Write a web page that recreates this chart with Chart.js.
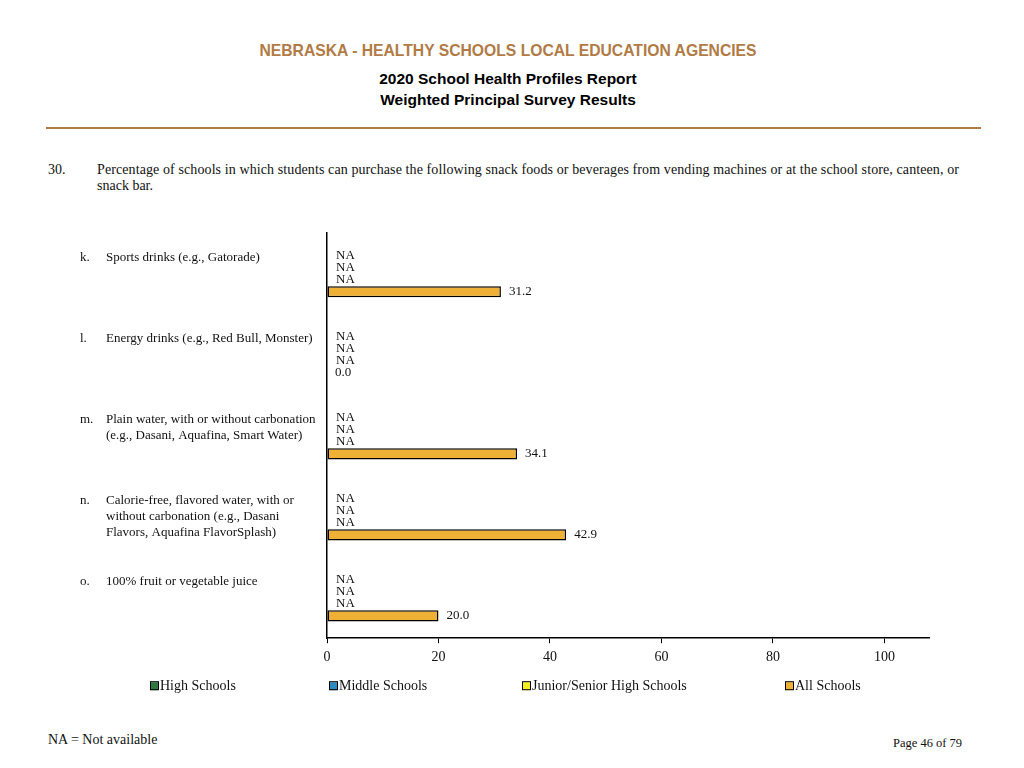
<!DOCTYPE html>
<html>
<head>
<meta charset="utf-8">
<script src="https://cdn.jsdelivr.net/npm/chart.js@4.4.0/dist/chart.umd.min.js"></script>
<style>
  body { margin: 0; background: #fff; width: 1024px; height: 768px; position: relative; overflow: hidden; }
  .t { position: absolute; white-space: nowrap; }
  .head { left: 0; width: 1016px; text-align: center; font-family: "Liberation Sans", Arial, sans-serif; font-weight: bold; }
  .serif { font: 14px "Liberation Serif", "Times New Roman", serif; color: #111; }
  #box { position: absolute; left: 0; top: 220px; width: 1024px; height: 490px; }
</style>
</head>
<body>
<div class="t head" style="top:42px;font-size:15.7px;color:#B07B45;">NEBRASKA - HEALTHY SCHOOLS LOCAL EDUCATION AGENCIES</div>
<div class="t head" style="top:70px;font-size:15.5px;color:#000;">2020 School Health Profiles Report</div>
<div class="t head" style="top:91px;font-size:15.5px;color:#000;">Weighted Principal Survey Results</div>
<div style="position:absolute;left:46px;top:127px;width:935px;height:2px;background:#B07B45;"></div>
<div class="t serif" style="left:48px;top:162px;">30.</div>
<div class="t serif" style="left:97px;top:162px;letter-spacing:0.1px;">Percentage of schools in which students can purchase the following snack foods or beverages from vending machines or at the school store, canteen, or</div>
<div class="t serif" style="left:97px;top:178px;">snack bar.</div>
<div class="t serif" style="left:48px;top:732px;">NA = Not available</div>
<div class="t serif" style="left:893px;top:736px;font-size:12.5px;">Page 46 of 79</div>
<div id="box"><canvas id="chart"></canvas></div>
<script>
// categories
const letters = ['k.', 'l.', 'm.', 'n.', 'o.'];
const categories = [
  ['Sports drinks (e.g., Gatorade)'],
  ['Energy drinks (e.g., Red Bull, Monster)'],
  ['Plain water, with or without carbonation', '(e.g., Dasani, Aquafina, Smart Water)'],
  ['Calorie-free, flavored water, with or', 'without carbonation (e.g., Dasani', 'Flavors, Aquafina FlavorSplash)'],
  ['100% fruit or vegetable juice']
];
// series (null = NA)
const highSchools = [null, null, null, null, null];
const middleSchools = [null, null, null, null, null];
const juniorSeniorHigh = [null, null, null, null, null];
const allSchools = [31.2, 0.0, 34.1, 42.9, 20.0];
const seriesNames = ['High Schools', 'Middle Schools', 'Junior/Senior High Schools', 'All Schools'];
const seriesColors = ['#2E7A3C', '#2A8AC2', '#F4EE1E', '#EFB135'];
const xTicks = [0, 20, 40, 60, 80, 100];

const serif = '"Liberation Serif", "Times New Roman", serif';

const labelPlugin = {
  id: 'labels',
  afterDatasetsDraw(chart) {
    const ctx = chart.ctx;
    const x = chart.scales.x;
    ctx.save();
    ctx.font = '13px ' + serif;
    ctx.fillStyle = '#111';
    ctx.textBaseline = 'middle';
    ctx.textAlign = 'left';
    chart.data.datasets.forEach((ds, i) => {
      const meta = chart.getDatasetMeta(i);
      ds.data.forEach((v, j) => {
        const el = meta.data[j];
        if (v === null) {
          ctx.fillText('NA', x.getPixelForValue(0) + 9, el.y);
        } else {
          ctx.fillText(v.toFixed(1), x.getPixelForValue(v) + 8, el.y);
        }
      });
    });
    // category labels on the left
    const y = chart.scales.y;
    categories.forEach((lines, j) => {
      const yc = y.getPixelForValue(j) - 16;
      ctx.fillText(letters[j], 80, yc);
      lines.forEach((s, k) => ctx.fillText(s, 106, yc + k * 16));
    });
    // legend
    ctx.font = '14px ' + serif;
    const legendX = [150, 329, 522, 785];
    const ly = chart.chartArea.bottom + 48;
    seriesNames.forEach((name, i) => {
      ctx.fillStyle = seriesColors[i];
      ctx.fillRect(legendX[i], ly - 4, 8, 8);
      ctx.strokeStyle = '#000';
      ctx.lineWidth = 1;
      ctx.strokeRect(legendX[i] + 0.5, ly - 4.5, 8, 8);
      ctx.fillStyle = '#111';
      ctx.fillText(name, legendX[i] + 10, ly);
    });
    ctx.restore();
  }
};

new Chart(document.getElementById('chart'), {
  type: 'bar',
  data: {
    labels: categories.map(c => c.join(' ')),
    datasets: [highSchools, middleSchools, juniorSeniorHigh, allSchools].map((d, i) => ({
      label: seriesNames[i],
      data: d,
      backgroundColor: seriesColors[i],
      borderColor: '#000',
      borderWidth: 1.5,
      borderSkipped: false,
      categoryPercentage: 0.6,
      barPercentage: 0.92
    }))
  },
  options: {
    indexAxis: 'y',
    responsive: true,
    maintainAspectRatio: false,
    animation: false,
    layout: { padding: { left: 319, right: 95, top: 13, bottom: 38 } },
    plugins: { legend: { display: false }, tooltip: { enabled: false } },
    scales: {
      x: {
        min: 0,
        max: 108,
        afterBuildTicks: s => { s.ticks = xTicks.map(v => ({ value: v })); },
        grid: { drawOnChartArea: false, color: '#000', tickLength: 5 },
        border: { color: '#000', width: 1.5 },
        ticks: { color: '#111', font: { family: serif, size: 14 }, padding: 6, maxRotation: 0 }
      },
      y: {
        grid: { display: false },
        border: { color: '#000', width: 1.5 },
        ticks: { display: false }
      }
    }
  },
  plugins: [labelPlugin]
});
</script>
</body>
</html>
